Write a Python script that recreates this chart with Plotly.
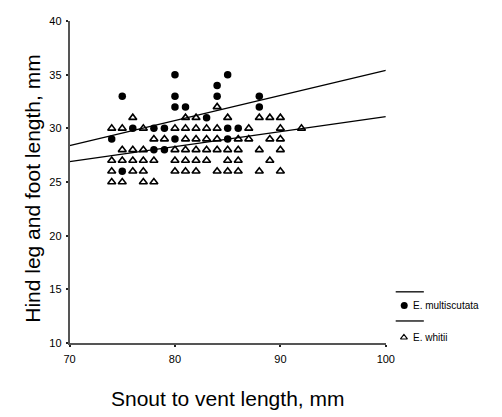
import plotly.graph_objects as go
import numpy as np

# --- data ---
multi_x = [75, 80, 80, 80, 81, 84, 84, 85, 88, 88, 83, 76, 78, 79, 85, 86, 74, 80, 85, 78, 79, 75]
multi_y = [33, 35, 33, 32, 32, 34, 33, 35, 33, 32, 31, 30, 30, 30, 30, 30, 29, 29, 29, 28, 28, 26]

whitii_rows = {
    32: [84],
    31: [76, 81, 82, 85, 88, 89, 90],
    30: [74, 75, 77, 80, 81, 82, 83, 84, 87, 90, 92],
    29: [78, 79, 81, 82, 83, 84, 86, 87, 89, 90],
    28: [75, 76, 77, 80, 81, 82, 83, 84, 85, 86, 88, 90],
    27: [74, 75, 76, 77, 78, 80, 81, 82, 83, 85, 86, 89],
    26: [74, 76, 77, 80, 81, 82, 84, 85, 86, 88, 90],
    25: [74, 75, 77, 78],
}
whitii_x = [x for yv, xs in whitii_rows.items() for x in xs]
whitii_y = [yv for yv, xs in whitii_rows.items() for x in xs]

# fitted lines: y = intercept + slope * x
multi_fit = {"intercept": 12.07, "slope": 0.2333}
whitii_fit = {"intercept": 17.1, "slope": 0.14}

x_range = [70, 100]
y_range = [10, 40]
x_ticks = [70, 80, 90, 100]
y_ticks = [10, 15, 20, 25, 30, 35, 40]

legend_names = ["E. multiscutata", "E. whitii"]

W, H = 502, 417
FONT = "Liberation Sans, Arial, sans-serif"

fig = go.Figure()

xl = np.array(x_range, dtype=float)
for fit in (multi_fit, whitii_fit):
    fig.add_trace(go.Scatter(x=xl, y=fit["intercept"] + fit["slope"] * xl, mode="lines",
                             line=dict(color="black", width=1.3), showlegend=False, hoverinfo="skip"))

fig.add_trace(go.Scatter(x=whitii_x, y=whitii_y, mode="markers", showlegend=False,
                         marker=dict(symbol="triangle-up-open", size=7, color="black",
                                     line=dict(width=1.6, color="black"))))
fig.add_trace(go.Scatter(x=multi_x, y=multi_y, mode="markers", showlegend=False,
                         marker=dict(symbol="circle", size=7.5, color="black", line=dict(width=0))))

# custom legend on a pixel-space overlay axis
fig.add_trace(go.Scatter(x=[401.7, 430.7], y=[294.3, 294.3], mode="lines", xaxis="x2", yaxis="y2",
                         line=dict(color="black", width=1.3), showlegend=False, hoverinfo="skip"))
fig.add_trace(go.Scatter(x=[401.7, 430.7], y=[324.3, 324.3], mode="lines", xaxis="x2", yaxis="y2",
                         line=dict(color="black", width=1.3), showlegend=False, hoverinfo="skip"))
fig.add_trace(go.Scatter(x=[410.5], y=[308.3], mode="markers", xaxis="x2", yaxis="y2",
                         marker=dict(symbol="circle", size=7, color="black", line=dict(width=0)),
                         showlegend=False, hoverinfo="skip"))
fig.add_trace(go.Scatter(x=[410.2], y=[341.3], mode="markers", xaxis="x2", yaxis="y2",
                         marker=dict(symbol="triangle-up-open", size=6, color="black",
                                     line=dict(width=1.2, color="black")),
                         showlegend=False, hoverinfo="skip"))

annotations = [
    dict(x=417, y=308.3, xref="x2", yref="y2", text=legend_names[0], showarrow=False,
         xanchor="left", yanchor="middle", font=dict(family=FONT, size=10, color="black")),
    dict(x=417, y=341.8, xref="x2", yref="y2", text=legend_names[1], showarrow=False,
         xanchor="left", yanchor="middle", font=dict(family=FONT, size=10, color="black")),
    dict(x=228.5, y=404, xref="x2", yref="y2", text="Snout to vent length, mm", showarrow=False,
         xanchor="center", yanchor="middle", font=dict(family=FONT, size=21, color="black")),
    dict(x=27, y=188, xref="x2", yref="y2", text="Hind leg and foot length, mm", showarrow=False,
         textangle=-90, xanchor="center", yanchor="middle", font=dict(family=FONT, size=21, color="black")),
]

axis_common = dict(showgrid=False, zeroline=False, showline=True, linecolor="#555555", linewidth=1.5,
                   ticks="outside", ticklen=2, tickwidth=2, tickcolor="#222222",
                   tickfont=dict(family=FONT, size=11, color="black"))

fig.update_layout(
    width=W, height=H,
    margin=dict(l=0, r=0, t=0, b=0),
    paper_bgcolor="white", plot_bgcolor="rgba(0,0,0,0)",
    xaxis=dict(domain=[65.5 / W, 391.5 / W], range=x_range, tickvals=x_ticks,
               ticklabelstandoff=3, **axis_common),
    yaxis=dict(domain=[(H - 347) / H, (H - 15.5) / H], range=y_range, tickvals=y_ticks,
               ticklabelstandoff=2, **axis_common),
    xaxis2=dict(domain=[0, 1], range=[0, W], visible=False, anchor="y2"),
    yaxis2=dict(domain=[0, 1], range=[H, 0], visible=False, anchor="x2"),
    annotations=annotations,
    showlegend=False,
)

fig.write_html("out.html")
